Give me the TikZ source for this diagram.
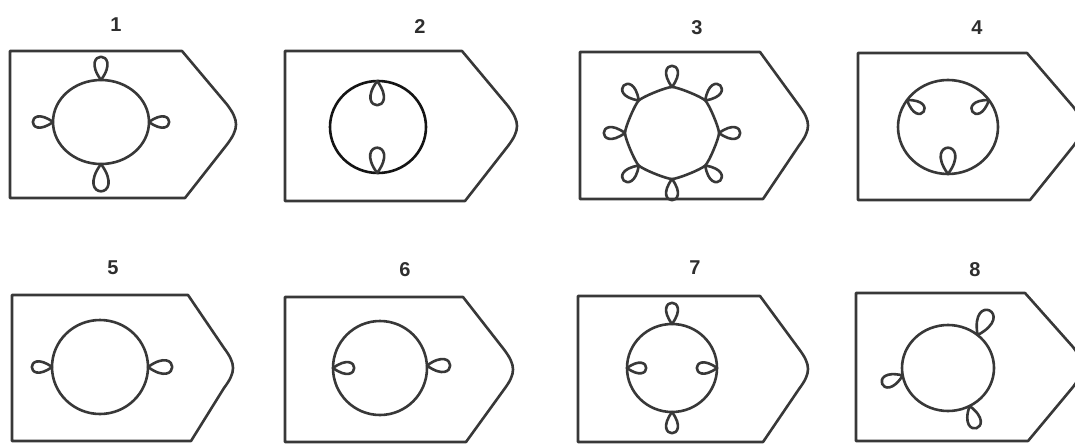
\documentclass[tikz,border=0pt]{standalone}
\usepackage{fontspec}
\setmainfont{Liberation Sans}
\begin{document}
\begin{tikzpicture}[x=1pt,y=-1pt,
  ink/.style={draw=black!78, line width=2.6pt, line join=round, line cap=round},
  plate/.style={ink},
  ring/.style={ink},
  num/.style={font=\fontsize{20}{20}\selectfont\bfseries, text=black!82, inner sep=0pt}]
\useasboundingbox (0,0) rectangle (1075,444);
\clip (0,0) rectangle (1075,444);
% plate outline: L T B C X
\newcommand\plate[5]{%
  \draw[plate] (#1,#2) -- (#4,#2) -- ({#5-9},{(#2+#3)/2-20})
    .. controls ({#5-3},{(#2+#3)/2-12}) and (#5,{(#2+#3)/2-6}) .. (#5,{(#2+#3)/2})
    .. controls (#5,{(#2+#3)/2+6}) and ({#5-3},{(#2+#3)/2+12}) .. ({#5-9},{(#2+#3)/2+20})
    -- ({#4+3},#3) -- (#1,#3) -- cycle;}
% petal: center, rx, ry, attach angle, direction, length
\newcommand\petal[6]{%
  \path (#1) ++(#4:#2 and #3) coordinate (pp);
  \draw[ink] (pp) .. controls +({#5+36}:{#6/0.6}) and +({#5-36}:{#6/0.6}) .. (pp);}

% ---------- panel 1
\node[num] (n1) at (116,25) {1};
\plate{10}{51}{198}{182}{236}
\coordinate (c1) at (101,122);
\draw[ring] (c1) ellipse [x radius=48, y radius=42];
\petal{c1}{48}{42}{-90}{-90}{23}
\petal{c1}{48}{42}{90}{90}{27}
\petal{c1}{48}{42}{180}{180}{20}
\petal{c1}{48}{42}{0}{0}{20}

% ---------- panel 2
\node[num] (n2) at (420,27) {2};
\plate{285}{51}{201}{462}{517}
\coordinate (c2) at (378,127);
\draw[ring, draw=black!92] (c2) ellipse [x radius=48, y radius=46];
\petal{c2}{48}{46}{-91}{90}{24}
\petal{c2}{48}{46}{91}{-90}{25}

% ---------- panel 3
\node[num] (n3) at (697,28) {3};
\plate{580}{52}{199}{760}{808}
\coordinate (c3) at (672,133);
\draw[ring] plot[smooth cycle, tension=0.3, samples at={-90,-45,0,45,90,135,180,225}] ({672+47*cos(\x)},{133+46*sin(\x)});
\foreach \a in {-90,-45,0,45,90,135,180,225}{\petal{c3}{47}{46}{\a}{\a}{21}}

% ---------- panel 4
\node[num] (n4) at (977,28) {4};
\plate{858}{53}{200}{1027}{1082}
\coordinate (c4) at (948,127);
\draw[ring] (c4) ellipse [x radius=50, y radius=47];
\petal{c4}{50}{47}{-145}{35}{20}
\petal{c4}{50}{47}{-35}{145}{20}
\petal{c4}{50}{47}{90}{-90}{26}

% ---------- panel 5
\node[num] (n5) at (113,268) {5};
\plate{12}{295}{441}{188}{233}
\coordinate (c5) at (100,367);
\draw[ring] (c5) ellipse [x radius=48, y radius=47];
\petal{c5}{48}{47}{180}{180}{20}
\petal{c5}{48}{47}{0}{0}{24}

% ---------- panel 6
\node[num] (n6) at (405,270) {6};
\plate{285}{297}{442}{463}{513}
\coordinate (c6) at (380,368);
\draw[ring] (c6) ellipse [x radius=47, y radius=47];
\petal{c6}{47}{47}{180}{0}{21}
\petal{c6}{47}{47}{-3}{0}{23}

% ---------- panel 7
\node[num] (n7) at (695,268) {7};
\plate{578}{296}{442}{760}{808}
\coordinate (c7) at (672,368);
\draw[ring] (c7) ellipse [x radius=45, y radius=44];
\petal{c7}{45}{44}{-90}{-90}{21}
\petal{c7}{45}{44}{90}{90}{21}
\petal{c7}{45}{44}{180}{0}{19}
\petal{c7}{45}{44}{0}{180}{20}

% ---------- panel 8
\node[num] (n8) at (975,270) {8};
\plate{856}{293}{441}{1025}{1082}
\coordinate (c8) at (948,368);
\draw[ring] (c8) ellipse [x radius=46, y radius=43];
\petal{c8}{46}{43}{-50}{-64}{27}
\petal{c8}{46}{43}{170}{158}{22}
\petal{c8}{46}{43}{62}{73}{23}
\end{tikzpicture}
\end{document}
